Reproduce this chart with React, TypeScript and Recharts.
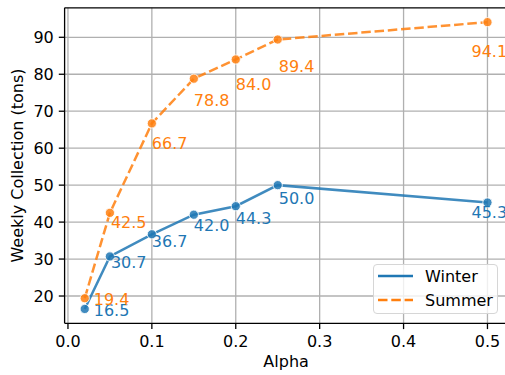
import React from "react";
import {
  LineChart,
  Line,
  XAxis,
  YAxis,
  CartesianGrid,
  LabelList,
  ReferenceLine
} from "recharts";

const alphas = [0.02, 0.05, 0.1, 0.15, 0.2, 0.25, 0.5];
const winter = [16.5, 30.7, 36.7, 42.0, 44.3, 50.0, 45.3];
const summer = [19.4, 42.5, 66.7, 78.8, 84.0, 89.4, 94.1];
const xTicks = [0, 0.1, 0.2, 0.3, 0.4, 0.5];
const yTicks = [20, 30, 40, 50, 60, 70, 80, 90];

// label nudges (text left edge / centre, relative to the point)
const winterNudge = [[9, 2], [1, 6], [0, 7], [0, 11], [0, 12], [1, 13], [-16, 10]];
const summerNudge = [[9, 1], [1, 10], [0, 20], [0, 22], [0, 25], [1, 27], [-16, 29]];

const data = alphas.map((a, i) => ({ alpha: a, winter: winter[i], summer: summer[i] }));

const BLUE = "#1f77b4";
const ORANGE = "#ff7f0e";
const FONT = "DejaVu Sans, sans-serif";
const FS = 16;
const Y_MIN = 12.62;
const Y_MAX = 97.98;

const makeLabel = (nudge: number[][], color: string) => (props: any) => {
  const { x, y, value, index } = props;
  const [dx, dy] = nudge[index];
  return (
    <text
      x={x + dx}
      y={y + dy}
      fill={color}
      fontSize={FS}
      fontFamily={FONT}
      dominantBaseline="central"
    >
      {Number(value).toFixed(1)}
    </text>
  );
};

const LegendBox = () => (
  <div
    style={{
      position: "absolute",
      left: 373,
      top: 264,
      width: 125,
      height: 50,
      border: "1px solid #d6d6d6",
      borderRadius: 4,
      background: "rgba(255,255,255,0.8)",
      boxSizing: "border-box"
    }}
  >
    <svg width={125} height={50} style={{ position: "absolute", left: -1, top: -1 }}>
      <line x1={5} x2={40} y1={12} y2={12} stroke={BLUE} strokeWidth={2.5} />
      <line x1={5} x2={40} y1={36} y2={36} stroke={ORANGE} strokeWidth={2.5} strokeDasharray="9.5 3.8" />
      <text x={52} y={12} dominantBaseline="central" fontSize={FS} fontFamily={FONT}>Winter</text>
      <text x={52} y={36} dominantBaseline="central" fontSize={FS} fontFamily={FONT}>Summer</text>
    </svg>
  </div>
);

export default function App() {
  return (
    <div style={{ position: "absolute", left: 0, top: 0, width: 505, height: 375, overflow: "hidden", background: "#fff" }}>
      <LineChart
        width={512}
        height={375}
        data={data}
        margin={{ top: 7.8, right: 4.4, left: 0, bottom: 0 }}
      >
        <CartesianGrid stroke="#b0b0b0" strokeWidth={1.3} verticalValues={xTicks} horizontalValues={yTicks} />
        <XAxis
          dataKey="alpha"
          type="number"
          domain={[-0.004, 0.524]}
          ticks={xTicks}
          allowDataOverflow
          tickFormatter={(v: number) => v.toFixed(1)}
          height={51.7}
          stroke="#000"
          strokeWidth={1.3}
          tickSize={5.8}
          tickMargin={6.3}
          tick={{ fill: "#000", fontSize: FS, fontFamily: FONT }}
          label={(p: any) => {
            const vb = p.viewBox;
            return (
              <text x={vb.x + vb.width / 2} y={361} textAnchor="middle" dominantBaseline="central" fontSize={FS} fontFamily={FONT} fill="#000">
                Alpha
              </text>
            );
          }}
        />
        <YAxis
          type="number"
          domain={[Y_MIN, Y_MAX]}
          ticks={yTicks}
          allowDataOverflow
          width={64.6}
          stroke="#000"
          strokeWidth={1.3}
          tickSize={5.8}
          tickMargin={5}
          tick={{ fill: "#000", fontSize: FS, fontFamily: FONT }}
          label={() => {
            const cy = 7.8 + 315.5 / 2;
            return (
              <text x={18} y={cy} transform={`rotate(-90, 18, ${cy})`} textAnchor="middle" dominantBaseline="central" fontSize={FS} fontFamily={FONT} fill="#000">
                Weekly Collection (tons)
              </text>
            );
          }}
        />
        <ReferenceLine y={Y_MAX} stroke="#000" strokeWidth={1.3} />
        <Line
          dataKey="winter"
          stroke={BLUE}
          strokeOpacity={0.85}
          strokeWidth={2.5}
          dot={{ r: 4.6, fill: BLUE, fillOpacity: 0.85, stroke: "#fff", strokeWidth: 1 }}
          activeDot={false}
          isAnimationActive={false}
        >
          <LabelList dataKey="winter" content={makeLabel(winterNudge, BLUE)} />
        </Line>
        <Line
          dataKey="summer"
          stroke={ORANGE}
          strokeOpacity={0.85}
          strokeWidth={2.5}
          strokeDasharray="9.5 3.8"
          dot={{ r: 4.6, fill: ORANGE, fillOpacity: 0.85, stroke: "#fff", strokeWidth: 1, strokeDasharray: "0" }}
          activeDot={false}
          isAnimationActive={false}
        >
          <LabelList dataKey="summer" content={makeLabel(summerNudge, ORANGE)} />
        </Line>
      </LineChart>
      <LegendBox />
    </div>
  );
}
